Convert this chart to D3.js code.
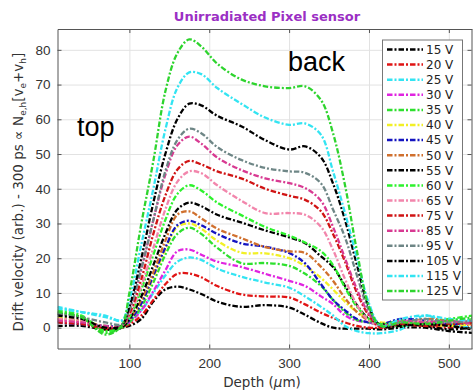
<!DOCTYPE html>
<html lang="en">
<head>
<meta charset="UTF-8">
<script src="https://d3js.org/d3.v7.min.js"></script>
<style>
  body { margin: 0; background: #fff; }
  svg { font-family: "DejaVu Sans", sans-serif; }
  .tick text { font-size: 13.5px; fill: #333; }
  .grid line { stroke: #e2e2e2; }
</style>
</head>
<body>
<svg id="chart" width="473" height="390"></svg>
<script>

// depth sample points (um)
const depths = [10, 40, 70, 90, 100, 115, 130, 145, 160, 175, 190, 210, 240, 270, 300, 320, 340, 355, 370, 385, 400, 415, 440, 470, 500, 530]

const v15  = [0.5, 0.5, -0.5, 0, 0.5, 2.5, 7.5, 11, 11.8, 11, 9.7, 7.5, 6, 6.5, 5.8, 3.7, 1.3, 0, -0.3, -0.3, -0.3, -0.5, 0, 0, -1, -1.5]
const v20  = [2, 1.5, -0.5, 0, 1, 3.5, 8, 12.5, 15.5, 15.6, 14.5, 12, 9.6, 9, 8.7, 6.7, 4.3, 2.8, 1.5, 0.5, 0, 0, 1, 0.5, 0, 0.5]
const v25  = [6, 4.5, 3, 2, 2.5, 5, 10, 15, 19, 20.2, 19.5, 17, 14.7, 13, 11.5, 9, 6, 3.5, 0.5, -1, -1.6, -1.6, -0.5, 3.5, 1, 0]
const v30  = [2.5, 1.5, 0, 0.5, 1.5, 5, 10.5, 16.5, 22, 22.5, 21, 19, 17.5, 15.5, 13.5, 12, 9, 6.8, 3.5, 2, 1.5, 1, 2, 1, 1.5, 2]
const v35  = [4.5, 3, -1.5, 0, 1.5, 6, 13, 21, 27, 28.8, 27, 23, 18.6, 18.6, 17.8, 15.5, 12, 8, 4.5, 2.2, 1.5, 1, 0.5, 1.5, 1, 2.5]
const v40  = [3, 2, 0.5, 0.5, 2, 7, 14.5, 22.5, 29, 30, 28.5, 25, 21.6, 21.4, 20, 17.8, 14.3, 11, 7.5, 4.5, 2.5, 1.5, 1.5, 1, 0.5, 1]
const v45  = [1.5, 1, 0.5, 0.5, 2, 7, 15, 23, 29.5, 30.8, 29.5, 27, 24.3, 23.3, 21.5, 18.5, 12.5, 8, 5, 2.5, 1.5, 1, 2.5, 2, 1, 1.5]
const v50  = [2.5, 2, 0, 0.5, 2.5, 8, 16, 25, 32.5, 33.5, 31.5, 28.5, 25.8, 23.2, 22, 21.5, 17.5, 13.5, 8.5, 4.5, 2, 1, 1, 2.5, 2, 1]
const v55  = [4, 3, -0.5, 0, 2.5, 9, 18, 27, 34, 36, 35, 32.5, 30.3, 28, 26, 24.3, 20.5, 17.5, 12, 6.5, 2.5, 1, 1, 0.5, -0.5, 0]
const v60  = [5, 3.5, -1, 0.5, 3, 11, 21, 31, 38.5, 41, 39.5, 36, 32.4, 29, 26.5, 24.5, 22, 18, 11.5, 6, 2.5, 1, 2, 1.5, 2.5, 3.5]
const v65  = [2.5, 2, 0, 0.5, 3.5, 12, 23, 34, 42, 45, 44.5, 41, 36.6, 33, 33, 32.5, 29, 22.4, 14, 6.5, 2, 0.5, 1.5, 2, 1.5, 2]
const v75  = [1.5, 1, 0, 0.5, 4, 14, 27, 38, 45.5, 48, 47, 45, 43, 40, 38, 36.8, 33.5, 27, 19, 10, 3.5, 0, 1, 0.5, 1, 1.5]
const v85  = [2, 1.5, 0.5, 0.5, 5, 17, 31, 44, 52.5, 55, 53, 49, 45.4, 43, 41.6, 40.2, 36.5, 29, 20, 11, 4, 0.5, 2, 1.5, 2, 1]
const v95  = [4, 3, 1.5, 1, 5, 17, 31, 45, 54, 57.3, 56, 52, 48.3, 46, 45, 44.6, 41.5, 34, 26, 15, 5, 0.5, 1.5, 2.5, 1.5, 2]
const v105 = [3.5, 2.5, 0, 0.5, 6, 20, 36, 50, 60, 64.5, 64, 61, 58, 54, 51.3, 52.2, 49, 41.5, 31, 18, 6, 0.5, 0.5, 1, 0.5, -0.5]
const v115 = [5.5, 4.5, 3.5, 2, 8, 24, 40, 57, 69, 73.5, 73, 69, 64.5, 60.5, 58.4, 58.8, 55.5, 45, 33, 20, 7, 0.5, 2.5, 3.5, 2.5, 2]
const v125 = [4.5, 3, -2, 0.5, 10, 30, 48, 68, 79, 83, 81, 76, 71.5, 69.5, 69, 69.5, 65.5, 56, 41, 22, 6, 0.5, 1.5, 1, 2, 3]

const voltages = [15, 20, 25, 30, 35, 40, 45, 50, 55, 60, 65, 75, 85, 95, 105, 115, 125]
const values = [v15, v20, v25, v30, v35, v40, v45, v50, v55, v60, v65, v75, v85, v95, v105, v115, v125]
const colors = ['#000000', '#e01414', '#33e4f2', '#e024e0', '#2ee02e', '#f2f026', '#1414c0', '#d0702e',
                '#000000', '#2ef22e', '#f286ac', '#d01414', '#d83a92', '#6e8686', '#000000', '#33e4f2', '#2ed42e']

const xTicks = [100, 200, 300, 400, 500]
const yTicks = [0, 10, 20, 30, 40, 50, 60, 70, 80]

const margin = {left: 57.5, right: 1, top: 29, bottom: 41.5},
    W = 473, H = 390

const x = d3.scaleLinear().domain([10, 529]).range([margin.left, W - margin.right])
const y = d3.scaleLinear().domain([-6, 86]).range([H - margin.bottom, margin.top])

const svg = d3.select('#chart')

svg.append('defs').append('clipPath').attr('id', 'clip')
  .append('rect')
    .attr('x', x.range()[0]).attr('y', y.range()[1])
    .attr('width', x.range()[1] - x.range()[0])
    .attr('height', y.range()[0] - y.range()[1])

// grid
svg.append('g').attr('class', 'grid')
    .attr('transform', `translate(0,${y.range()[0]})`)
    .call(d3.axisBottom(x).tickValues(xTicks).tickSize(-(y.range()[0] - y.range()[1])).tickFormat(''))
    .call(g => g.select('.domain').remove())
svg.append('g').attr('class', 'grid')
    .attr('transform', `translate(${x.range()[0]},0)`)
    .call(d3.axisLeft(y).tickValues(yTicks).tickSize(-(x.range()[1] - x.range()[0])).tickFormat(''))
    .call(g => g.select('.domain').remove())

// curves
const dash = '5.5,2,2,2'
const line = d3.line()
    .x((d, i) => x(depths[i]))
    .y(d => y(d))
    .curve(d3.curveCatmullRom.alpha(0.5))

svg.append('g').attr('clip-path', 'url(#clip)')
  .selectAll('path')
  .data(values)
  .join('path')
    .attr('d', line)
    .attr('fill', 'none')
    .attr('stroke', (d, i) => colors[i])
    .attr('stroke-width', 2.3)
    .attr('stroke-dasharray', dash)

// axes (box with inward ticks)
const axisColor = '#555'
const styleAxis = g => g
    .call(g => g.selectAll('.domain').attr('stroke', axisColor))
    .call(g => g.selectAll('.tick line').attr('stroke', axisColor))

svg.append('g')
    .attr('transform', `translate(0,${y.range()[0]})`)
    .call(d3.axisBottom(x).tickValues(xTicks).tickSizeInner(-4).tickSizeOuter(0).tickPadding(10))
    .call(styleAxis)
svg.append('g')
    .attr('transform', `translate(0,${y.range()[1]})`)
    .call(d3.axisTop(x).tickValues(xTicks).tickSizeInner(-4).tickSizeOuter(0).tickFormat(''))
    .call(styleAxis)
svg.append('g')
    .attr('transform', `translate(${x.range()[0]},0)`)
    .call(d3.axisLeft(y).tickValues(yTicks).tickSizeInner(-4).tickSizeOuter(0).tickPadding(7))
    .call(styleAxis)
svg.append('g')
    .attr('transform', `translate(${x.range()[1] - 0.5},0)`)
    .call(d3.axisRight(y).tickValues(yTicks).tickSizeInner(-4).tickSizeOuter(0).tickFormat(''))
    .call(styleAxis)

// title
svg.append('text')
    .attr('x', 267).attr('y', 21)
    .attr('text-anchor', 'middle')
    .attr('font-size', 13).attr('font-weight', 'bold')
    .attr('fill', '#9b2fc4')
    .text('Unirradiated Pixel sensor')

// x label
const xl = svg.append('text')
    .attr('x', 262).attr('y', 387)
    .attr('text-anchor', 'middle')
    .attr('font-size', 13.5).attr('fill', '#333')
xl.append('tspan').text('Depth (')
xl.append('tspan').attr('font-style', 'italic').text('μ')
xl.append('tspan').text('m)')

// y label
const yl = svg.append('text')
    .attr('transform', 'translate(23,192) rotate(-90)')
    .attr('text-anchor', 'middle')
    .attr('font-size', 13.5).attr('fill', '#333')
yl.append('tspan').text('Drift velocity (arb.) - 300 ps ∝ N')
yl.append('tspan').attr('font-size', 9).attr('dy', 3).text('e,h')
yl.append('tspan').attr('dy', -3).text('[v')
yl.append('tspan').attr('font-size', 9).attr('dy', 3).text('e')
yl.append('tspan').attr('dy', -3).text('+v')
yl.append('tspan').attr('font-size', 9).attr('dy', 3).text('h')
yl.append('tspan').attr('dy', -3).text(']')

// annotations
svg.append('text').attr('x', 77).attr('y', 136)
    .attr('font-family', '"Liberation Sans", Arial, sans-serif')
    .attr('font-size', 27).attr('fill', '#000').text('top')
svg.append('text').attr('x', 288).attr('y', 71)
    .attr('font-family', '"Liberation Sans", Arial, sans-serif')
    .attr('font-size', 27).attr('fill', '#000').text('back')

// legend
const lg = svg.append('g')
lg.append('rect')
    .attr('x', 382.5).attr('y', 40)
    .attr('width', 80).attr('height', 260)
    .attr('fill', '#fff').attr('stroke', '#777').attr('stroke-width', 1)

const rows = lg.selectAll('.row')
  .data(voltages)
  .join('g')
    .attr('class', 'row')
    .attr('transform', (d, i) => `translate(0,${49.5 + i * 15.1})`)
rows.append('line')
    .attr('x1', 387).attr('x2', 423)
    .attr('stroke', (d, i) => colors[i])
    .attr('stroke-width', 2.5)
    .attr('stroke-dasharray', dash)
rows.append('text')
    .attr('x', 426).attr('dy', '0.36em')
    .attr('font-size', 12).attr('fill', '#222')
    .text(d => `${d} V`)

</script>
</body>
</html>
